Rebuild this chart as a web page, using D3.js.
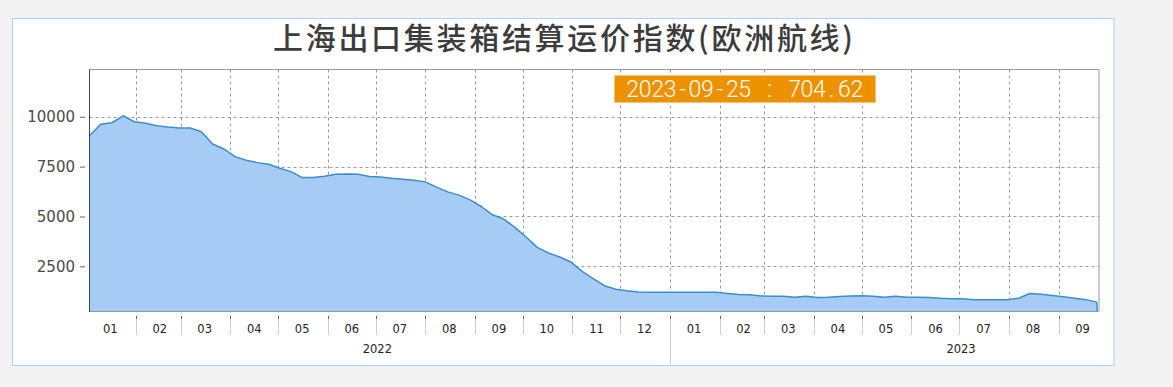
<!DOCTYPE html>
<html>
<head>
<meta charset="utf-8">
<script src="https://cdn.jsdelivr.net/npm/d3@7/dist/d3.min.js"></script>
<style>
  html, body { margin: 0; padding: 0; background: #f3f3f3; }
  svg { display: block; }
</style>
</head>
<body>
<svg id="chart" width="1173" height="387"></svg>
<script>
// ---- data ----
const title = "上海出口集装箱结算运价指数(欧洲航线)";
const dates = [
  "2022-01-03","2022-01-10","2022-01-17","2022-01-24","2022-01-31","2022-02-07","2022-02-14","2022-02-21","2022-02-28",
  "2022-03-07","2022-03-14","2022-03-21","2022-03-28","2022-04-04","2022-04-11","2022-04-18","2022-04-25",
  "2022-05-02","2022-05-09","2022-05-16","2022-05-23","2022-05-30","2022-06-06","2022-06-13","2022-06-20","2022-06-27",
  "2022-07-04","2022-07-11","2022-07-18","2022-07-25","2022-08-01","2022-08-08","2022-08-15","2022-08-22","2022-08-29",
  "2022-09-05","2022-09-12","2022-09-19","2022-09-26","2022-10-03","2022-10-10","2022-10-17","2022-10-24","2022-10-31",
  "2022-11-07","2022-11-14","2022-11-21","2022-11-28","2022-12-05","2022-12-12","2022-12-19","2022-12-26",
  "2023-01-02","2023-01-09","2023-01-16","2023-01-23","2023-01-30","2023-02-06","2023-02-13","2023-02-20","2023-02-27",
  "2023-03-06","2023-03-13","2023-03-20","2023-03-27","2023-04-03","2023-04-10","2023-04-17","2023-04-24",
  "2023-05-01","2023-05-08","2023-05-15","2023-05-22","2023-05-29","2023-06-05","2023-06-12","2023-06-19","2023-06-26",
  "2023-07-03","2023-07-10","2023-07-17","2023-07-24","2023-07-31","2023-08-07","2023-08-14","2023-08-21","2023-08-28",
  "2023-09-04","2023-09-11","2023-09-18","2023-09-25"
];
const values = [
  9050, 9620, 9700, 10050, 9750, 9670, 9550, 9485, 9435,
  9435, 9250, 8635, 8385, 8000, 7820, 7700, 7620,
  7420, 7250, 6950, 6950, 7020, 7120, 7130, 7120, 7000,
  6985, 6920, 6870, 6820, 6735, 6470, 6235, 6070, 5835,
  5500, 5085, 4870, 4450, 3970, 3450, 3170, 2970, 2720,
  2250, 1880, 1530, 1350, 1270, 1215, 1200, 1200,
  1200, 1200, 1200, 1200, 1195, 1140, 1085, 1070, 1010,
  1000, 1000, 950, 1000, 940, 950, 990, 1010,
  1020, 1000, 950, 1000, 950, 950, 940, 900, 880,
  880, 820, 820, 820, 820, 900, 1140, 1100, 1040,
  970, 900, 830, 704.62
];
const yTicks = [2500, 5000, 7500, 10000];
const monthLabels = ["01","02","03","04","05","06","07","08","09","10","11","12",
                     "01","02","03","04","05","06","07","08","09"];
const monthStarts = ["2022-01-01","2022-02-01","2022-03-01","2022-04-01","2022-05-01","2022-06-01","2022-07-01",
  "2022-08-01","2022-09-01","2022-10-01","2022-11-01","2022-12-01","2023-01-01","2023-02-01","2023-03-01",
  "2023-04-01","2023-05-01","2023-06-01","2023-07-01","2023-08-01","2023-09-01"];
const years = ["2022", "2023"];
const tipText = "2023-09-25 : 704.62";

// ---- drawing ----
const parse = d3.utcParse("%Y-%m-%d");
const data = dates.map((d, i) => ({ date: parse(d), value: values[i] }));
const svg = d3.select("#chart");

// panel
svg.append("rect").attr("x", 12.5).attr("y", 18.5).attr("width", 1101.5).attr("height", 347)
  .attr("fill", "#fff").attr("stroke", "#a9d1f7").attr("stroke-width", 1);

const L = 89.5, R = 1099, T = 69.5, B = 311;
const x = d3.scaleUtc().domain([data[0].date, data[data.length - 1].date]).range([L, 1097]);
const y = d3.scaleLinear().domain([260, 12370]).range([B, T]);

// title
svg.append("text").attr("x", 563).attr("y", 48.5).attr("text-anchor", "middle")
  .attr("font-family", "'Noto Sans CJK SC', sans-serif").attr("font-size", 30)
  .attr("font-weight", 500).attr("fill", "#3c3c3c")
  .attr("textLength", 580).attr("lengthAdjust", "spacing")
  .text(title);

// grid
const grid = svg.append("g");
grid.selectAll("line.h").data(yTicks).join("line")
  .attr("x1", L).attr("x2", R)
  .attr("y1", d => Math.round(y(d)) + 0.5).attr("y2", d => Math.round(y(d)) + 0.5)
  .attr("stroke", "#999").attr("stroke-dasharray", "3,3");
const ms = monthStarts.map(parse);
const inner = ms.filter(d => x(d) > L + 2 && x(d) < R - 2);
grid.selectAll("line.v").data(inner).join("line")
  .attr("x1", d => Math.round(x(d)) + 0.5).attr("x2", d => Math.round(x(d)) + 0.5)
  .attr("y1", T).attr("y2", B)
  .attr("stroke", "#999").attr("stroke-dasharray", "3,3");

// area
const area = d3.area().x(d => x(d.date)).y0(B).y1(d => y(d.value));
svg.append("path").datum(data).attr("d", area).attr("fill", "#a6cbf5");
const line = d3.line().x(d => x(d.date)).y(d => y(d.value));
svg.append("path").datum(data).attr("d", line).attr("fill", "none")
  .attr("stroke", "#3a8ecb").attr("stroke-width", 1.5).attr("stroke-linejoin", "round");
const last = data[data.length - 1];
svg.append("line").attr("x1", x(last.date)).attr("x2", x(last.date))
  .attr("y1", y(last.value)).attr("y2", B).attr("stroke", "#3a8ecb").attr("stroke-width", 1.5);

// frame
svg.append("path").attr("d", `M${L},${T}H${R}V${B}`).attr("fill", "none").attr("stroke", "#999");
svg.append("line").attr("x1", L).attr("x2", R).attr("y1", B + 0.5).attr("y2", B + 0.5).attr("stroke", "#999");
svg.append("line").attr("x1", L).attr("x2", L).attr("y1", T).attr("y2", B + 1).attr("stroke", "#444");

// y axis
const yAxis = d3.axisLeft(y).tickValues(yTicks).tickSize(5).tickPadding(5).tickFormat(d3.format("d"));
const yg = svg.append("g").attr("transform", "translate(85,0)").call(yAxis);
yg.select(".domain").remove();
yg.selectAll(".tick line").attr("stroke", "#666");
yg.selectAll(".tick text").attr("font-family", "'DejaVu Sans', sans-serif").attr("font-size", 15)
  .attr("fill", "#4a4a4a");

// x axis: month ticks & labels
const xa = svg.append("g");
const tickMonths = ms.filter(d => x(d) > L + 2);
xa.selectAll("line.t").data(tickMonths).join("line")
  .attr("x1", d => Math.round(x(d)) + 0.5).attr("x2", d => Math.round(x(d)) + 0.5)
  .attr("y1", 319).attr("y2", d => d.getUTCMonth() === 0 ? 364 : 335)
  .attr("stroke", "#ccc");
xa.selectAll("line.tt").data(tickMonths).join("line")
  .attr("x1", d => Math.round(x(d)) + 0.5).attr("x2", d => Math.round(x(d)) + 0.5)
  .attr("y1", 316).attr("y2", 319).attr("stroke", "#666");
xa.selectAll("text.m").data(ms).join("text")
  .attr("x", d => x(d3.utcDay.offset(d, 15)))
  .attr("y", 332.5).attr("text-anchor", "middle")
  .attr("font-family", "'DejaVu Sans', sans-serif").attr("font-size", 11.5).attr("fill", "#222")
  .text((d, i) => monthLabels[i]);
xa.selectAll("text.y").data(years).join("text")
  .attr("x", d => x(new Date(Date.UTC(+d, 6, 2))))
  .attr("y", 352.7).attr("text-anchor", "middle")
  .attr("font-family", "'DejaVu Sans', sans-serif").attr("font-size", 11.5).attr("fill", "#222")
  .text(d => d);

// tooltip label (monospaced cell layout)
svg.append("rect").attr("x", 614.5).attr("y", 75.5).attr("width", 261).attr("height", 27)
  .attr("fill", "#ec9200").attr("stroke", "#f6c47c");
const cell = 236.5 / tipText.length;
const xs = Array.from(tipText, (c, i) => (626.5 + cell * (i + 0.5)).toFixed(2)).join(" ");
svg.append("text").attr("x", xs).attr("y", 97).attr("text-anchor", "middle")
  .attr("font-family", "Roboto, sans-serif").attr("font-weight", 300).attr("font-size", 23).attr("fill", "#fff")
  .text(tipText);
</script>
</body>
</html>
